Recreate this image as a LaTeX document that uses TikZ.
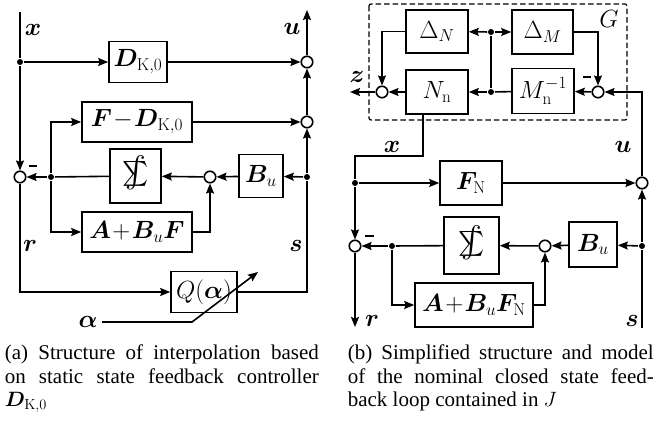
\documentclass[tikz,border=0pt]{standalone}
\usepackage{amsmath}
\usepackage{fontspec}
\usepackage{bm}
\newfontfamily\capfont{Liberation Serif}
\usetikzlibrary{arrows.meta}
\newcommand{\mysumint}{\ooalign{$\textstyle\sum$\cr\hidewidth\scalebox{1.25}{$\int$}\hidewidth\cr}}
\begin{document}
\begin{tikzpicture}[x=1pt,y=-1pt,line width=1.6pt,
  >={Stealth[length=10pt,width=8pt,inset=1.5pt]},
  blk/.style={draw,line width=1.6pt,inner sep=0pt,font=\fontsize{24.5}{28}\selectfont},
  sumc/.style={circle,draw,line width=1.6pt,minimum size=11.5pt,inner sep=0pt},
  jdot/.style={circle,fill,minimum size=6pt,inner sep=0pt},
  lbl/.style={font=\fontsize{23}{26}\selectfont,inner sep=0pt},
  captxt/.style={font=\capfont\fontsize{21}{23.5}\selectfont,inner sep=0pt,align=justify,anchor=north west}]
\useasboundingbox (0,0) rectangle (657,422);
% ---------------- left diagram ----------------
\coordinate (xtop) at (20,12);
\coordinate (utop) at (307,10);
\node[jdot] (x1) at (20,62) {};
\node[blk,minimum width=58pt,minimum height=41pt] (D) at (138,62) {$\bm{D}_{\mathrm{K},0}$};
\node[sumc] (u1) at (307,62) {};
\node[blk,minimum width=110pt,minimum height=40pt] (FD) at (137,122) {$\bm{F}\!-\!\bm{D}_{\mathrm{K},0}$};
\node[sumc] (u2) at (307,122) {};
\node[sumc] (s1) at (20,177) {};
\node[jdot] (d1) at (51,177) {};
\node[blk,minimum width=51pt,minimum height=54pt] (int1) at (135.5,176) {\mysumint};
\node[sumc] (s2) at (210,177) {};
\node[blk,minimum width=44pt,minimum height=43pt] (Bu1) at (261,176) {$\bm{B}_u$};
\node[jdot] (d2) at (307,177) {};
\node[blk,minimum width=110pt,minimum height=40pt] (ABF1) at (137,232) {$\bm{A}\!+\!\bm{B}_u\bm{F}$};
\node[blk,minimum width=66pt,minimum height=41pt] (Q) at (204,292) {$Q(\bm{\alpha})$};
\node[lbl] (lx1) at (33,30) {$\bm{x}$};
\node[lbl] (lu1) at (292,29) {$\bm{u}$};
\node[lbl] (lr1) at (30,246) {$\bm{r}$};
\node[lbl] (ls1) at (296,246) {$\bm{s}$};
\node[lbl] (la) at (88,322) {$\bm{\alpha}$};
\coordinate (a0) at (102,322);
\coordinate (a1) at (192,322);
\coordinate (a2) at (258,272);

\draw (xtop) -- (x1);
\draw[->] (x1) -- (s1);
\draw[->] (x1) -- (D);
\draw[->] (D) -- (u1);
\draw[->] (u1) -- (utop);
\draw[->] (u2) -- (u1);
\draw[->] (FD) -- (u2);
\draw[->] (d2) -- (u2);
\draw[->] (d2) -- (Bu1);
\draw[->] (Bu1) -- (s2);
\draw[->] (s2) -- (int1);
\draw (int1) -- (d1);
\draw[->] (d1) -- (s1);
\draw[->] (d1) |- (FD);
\draw[->] (d1) |- (ABF1);
\draw[->] (ABF1) -| (s2);
\draw[->] (s1) |- (Q);
\draw (Q) -| (d2);
\draw[->] (a0) -- (a1) -- (a2);
\draw[line width=1.8pt] (29,166) -- (37,166);

% ---------------- right diagram ----------------
\draw[dashed,dash pattern=on 5.5pt off 3pt,line width=1.2pt,rounded corners=2pt] (369,4) rectangle (627,120);
\node[lbl] (lG) at (609,19) {$G$};
\node[blk,minimum width=62pt,minimum height=43pt] (DN) at (437,31.5) {$\Delta_N$};
\node[blk,minimum width=61pt,minimum height=44pt] (DM) at (542.5,32) {$\Delta_M$};
\node[blk,minimum width=62pt,minimum height=44pt] (Nn) at (437,92) {$N_{\mathrm{n}}$};
\node[blk,minimum width=62pt,minimum height=45pt] (Mn) at (543,91) {$M_{\mathrm{n}}^{-1}$};
\node[jdot] (g1) at (491,92) {};
\node[jdot] (g2) at (491,32) {};
\node[sumc] (c1) at (382,92) {};
\node[sumc] (c2) at (598,92) {};
\coordinate (zend) at (350,92);
\node[lbl] (lz) at (357,77) {$\bm{z}$};
\node[jdot] (d3) at (355,183) {};
\node[blk,minimum width=62pt,minimum height=44pt] (FN) at (471,183) {$\bm{F}_{\mathrm{N}}$};
\node[sumc] (c3) at (642,183) {};
\node[sumc] (c4) at (355,246) {};
\node[jdot] (d4) at (392,246) {};
\node[blk,minimum width=55pt,minimum height=57pt] (int2) at (471.5,245.5) {\mysumint};
\node[sumc] (c5) at (545,246) {};
\node[blk,minimum width=48pt,minimum height=45pt] (Bu2) at (593,244.5) {$\bm{B}_u$};
\node[jdot] (d5) at (642,246) {};
\node[blk,minimum width=118pt,minimum height=44pt] (ABF2) at (474,305) {$\bm{A}\!+\!\bm{B}_u\bm{F}_{\mathrm{N}}$};
\coordinate (rend) at (355,327);
\coordinate (send) at (642,328);
\node[lbl] (lx2) at (392,147) {$\bm{x}$};
\node[lbl] (lu2) at (623,147) {$\bm{u}$};
\node[lbl] (lr2) at (372,321) {$\bm{r}$};
\node[lbl] (ls2) at (632,321) {$\bm{s}$};

\draw (Mn) -- (g1);
\draw[->] (g1) -- (Nn);
\draw (g1) -- (g2);
\draw[->] (g2) -- (DN);
\draw[->] (g2) -- (DM);
\draw[->] (DN) -| (c1);
\draw[->] (DM) -| (c2);
\draw[->] (Nn) -- (c1);
\draw[->] (c1) -- (zend);
\draw[->] (c2) -- (Mn);
\draw[->] (c3) |- (c2);
\draw ([xshift=-14pt]Nn.south) -- ++(0,41) -| (d3);
\draw[->] (d3) -- (FN);
\draw[->] (FN) -- (c3);
\draw[->] (d5) -- (c3);
\draw (send) -- (d5);
\draw[->] (d5) -- (Bu2);
\draw[->] (Bu2) -- (c5);
\draw[->] (c5) -- (int2);
\draw (int2) -- (d4);
\draw[->] (d4) -- (c4);
\draw[->] (d3) -- (c4);
\draw[->] (c4) -- (rend);
\draw[->] (d4) |- (ABF2);
\draw[->] (ABF2) -| (c5);
\draw[line width=1.8pt] (583,77) -- (591,77);
\draw[line width=1.8pt] (365,236) -- (374,236);

% ---------------- captions ----------------
\node[captxt,text width=314pt] (capa) at (4,344) {(a) Structure of interpolation based\linebreak on static state feedback controller\linebreak $\bm{D}_{\mathrm{K},0}$};
\node[captxt,text width=306pt] (capb) at (347,344) {(b) Simplified structure and model\linebreak of the nominal closed state feed-\linebreak back loop contained in $J$};
\end{tikzpicture}
\end{document}
